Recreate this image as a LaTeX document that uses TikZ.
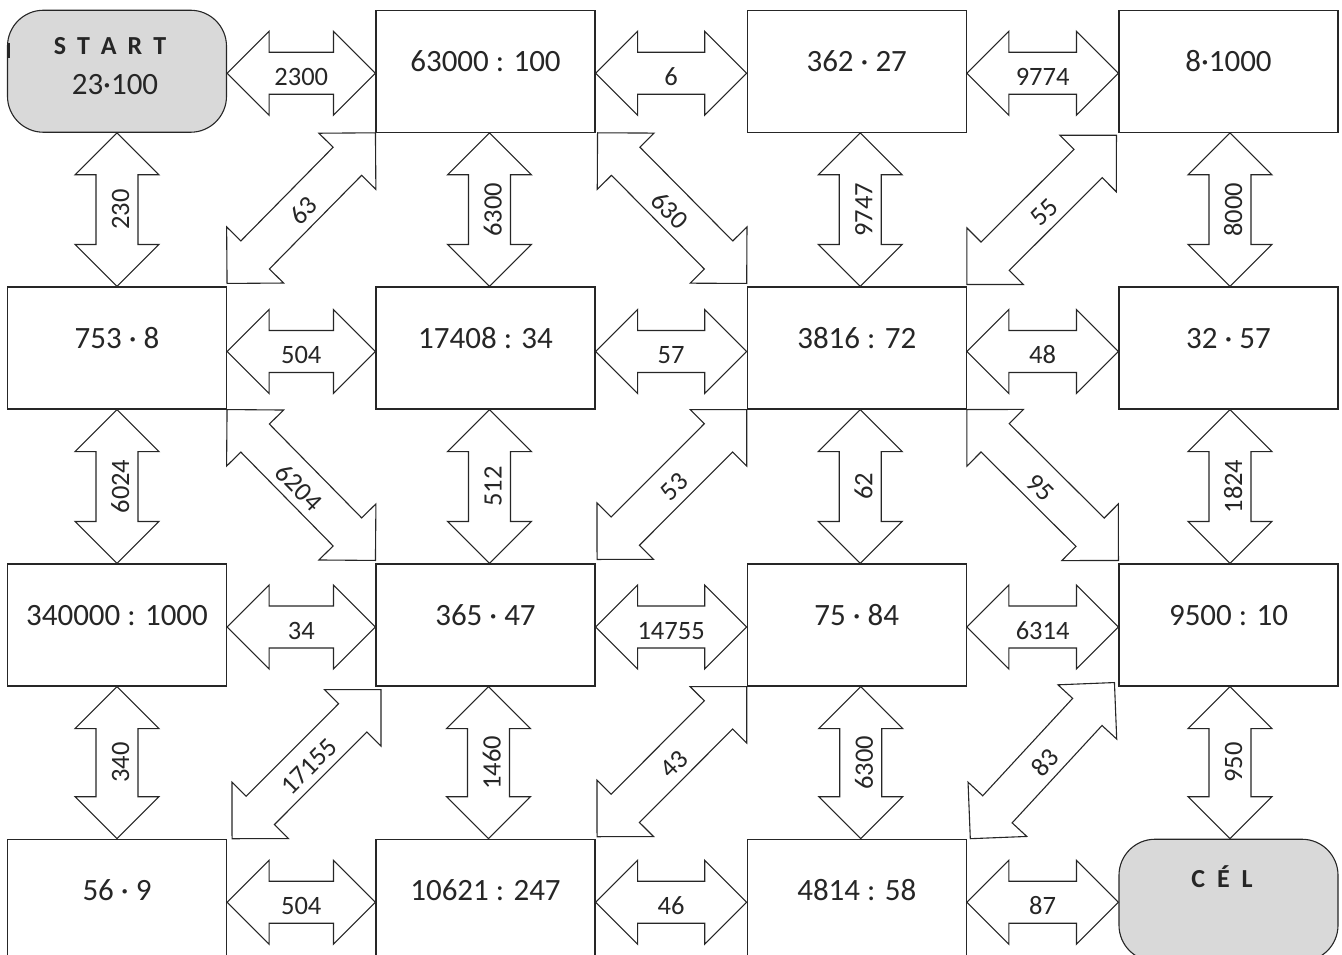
\documentclass[tikz,border=0pt]{standalone}
\usepackage{fontspec}
\setmainfont{Carlito}
\usetikzlibrary{calc}

\definecolor{goalgray}{RGB}{217,217,217}
\definecolor{inkgray}{RGB}{38,38,38}

\tikzset{
  cell/.style={draw=inkgray, line width=1.1pt, minimum width=219pt, minimum height=122pt,
    inner sep=0pt, text=inkgray, font=\fontsize{31}{36}\selectfont,
    text height=20pt, text depth=20pt},
  goal/.style={draw=inkgray, line width=1.1pt, fill=goalgray, minimum width=219pt,
    minimum height=122pt, rounded corners=36pt},
  goalword/.style={text=inkgray, font=\fontsize{26}{30}\selectfont\bfseries,
    anchor=base, inner sep=0pt},
  goalcalc/.style={text=inkgray, font=\fontsize{31}{36}\selectfont, anchor=base, inner sep=0pt},
  twowaybody/.style={draw=inkgray, line width=1.1pt, fill=white, line join=miter},
  twowaylabel/.style={text=inkgray, font=\fontsize{26.5}{30}\selectfont, text height=24pt,
    text depth=0pt, inner sep=0pt},
}

% double arrow: [head] {name} {from} {to} {label}
\newcommand\twoway[5][42]{%
  \coordinate (#2-a) at (#3);
  \coordinate (#2-b) at (#4);
  \draw[twowaybody] (#2-a)
    -- ($(#2-a)!#1pt!(#2-b)!#1pt!90:(#2-b)$)
    -- ($(#2-a)!#1pt!(#2-b)!0.5*#1pt!90:(#2-b)$)
    -- ($(#2-b)!#1pt!(#2-a)!0.5*#1pt!-90:(#2-a)$)
    -- ($(#2-b)!#1pt!(#2-a)!#1pt!-90:(#2-a)$)
    -- (#2-b)
    -- ($(#2-b)!#1pt!(#2-a)!#1pt!90:(#2-a)$)
    -- ($(#2-b)!#1pt!(#2-a)!0.5*#1pt!90:(#2-a)$)
    -- ($(#2-a)!#1pt!(#2-b)!0.5*#1pt!-90:(#2-b)$)
    -- ($(#2-a)!#1pt!(#2-b)!#1pt!-90:(#2-b)$)
    -- cycle;
  \path (#2-a) -- (#2-b) node[midway, sloped, twowaylabel] (#2) {#5};
}

\begin{document}
\begin{tikzpicture}[x=1pt, y=-1pt]
  \useasboundingbox (0,0) rectangle (1342,955);
  \clip (0,0) rectangle (1342,955);

  % Row 1
  \node[goal] (b11) at (117,71.25) {};
  \node[goalword] (startword) at (110,55)
    {S\hspace{11pt}T\hspace{11pt}A\hspace{11pt}R\hspace{11pt}T};
  \node[goalcalc] (startcalc) at (115,95) {23·100};
  \draw[line width=2.5pt, inkgray] (8.5,43) -- (8.5,58);
  \node[cell] (b12) at (485.5,71.25) {63000 : 100};
  \node[cell] (b13) at (856.75,71.25) {362 · 27};
  \node[cell] (b14) at (1228.5,71.25) {8·1000};

  % Row 2
  \node[cell] (b21) at (117,348) {753 · 8};
  \node[cell] (b22) at (485.5,348) {17408 : 34};
  \node[cell] (b23) at (856.75,348) {3816 : 72};
  \node[cell] (b24) at (1228.5,348) {32 · 57};

  % Row 3
  \node[cell] (b31) at (117,625) {340000 : 1000};
  \node[cell] (b32) at (485.5,625) {365 · 47};
  \node[cell] (b33) at (856.75,625) {75 · 84};
  \node[cell] (b34) at (1228.5,625) {9500 : 10};

  % Row 4
  \node[cell] (b41) at (117,900.25) {56 · 9};
  \node[cell] (b42) at (485.5,900.25) {10621 : 247};
  \node[cell] (b43) at (856.75,900.25) {4814 : 58};
  \node[goal] (b44) at (1228.5,900.25) {};
  \node[goalword] (goalword) at (1222,887)
    {C\hspace{12pt}É\hspace{12pt}L};

  % Horizontal arrows
  \twoway{h11}{[yshift=-2pt]b11.east}{[yshift=-2pt]b12.west}{2300}
  \twoway{h12}{[yshift=-2pt]b12.east}{[yshift=-2pt]b13.west}{6}
  \twoway{h13}{[yshift=-2pt]b13.east}{[yshift=-2pt]b14.west}{9774}
  \twoway{h21}{[yshift=-3.5pt]b21.east}{[yshift=-3.5pt]b22.west}{504}
  \twoway{h22}{[yshift=-3.5pt]b22.east}{[yshift=-3.5pt]b23.west}{57}
  \twoway{h23}{[yshift=-3.5pt]b23.east}{[yshift=-3.5pt]b24.west}{48}
  \twoway{h31}{[yshift=-2pt]b31.east}{[yshift=-2pt]b32.west}{34}
  \twoway{h32}{[yshift=-2pt]b32.east}{[yshift=-2pt]b33.west}{14755}
  \twoway{h33}{[yshift=-2pt]b33.east}{[yshift=-2pt]b34.west}{6314}
  \twoway{h41}{[yshift=-2pt]b41.east}{[yshift=-2pt]b42.west}{504}
  \twoway{h42}{[yshift=-2pt]b42.east}{[yshift=-2pt]b43.west}{46}
  \twoway{h43}{[yshift=-2pt]b43.east}{[yshift=-2pt]b44.west}{87}

  % Vertical arrows
  \twoway{v11}{b21.north}{b11.south}{230}
  \twoway{v12}{[xshift=4pt]b22.north}{[xshift=4pt]b12.south}{6300}
  \twoway{v13}{[xshift=3.5pt]b23.north}{[xshift=3.5pt]b13.south}{9747}
  \twoway{v14}{[xshift=1.5pt]b24.north}{[xshift=1.5pt]b14.south}{8000}
  \twoway{v21}{b31.north}{b21.south}{6024}
  \twoway{v22}{[xshift=4pt]b32.north}{[xshift=4pt]b22.south}{512}
  \twoway{v23}{[xshift=3.5pt]b33.north}{[xshift=3.5pt]b23.south}{62}
  \twoway{v24}{[xshift=1.5pt]b34.north}{[xshift=1.5pt]b24.south}{1824}
  \twoway{v31}{b41.north}{b31.south}{340}
  \twoway{v32}{[xshift=3pt]b42.north}{[xshift=3pt]b32.south}{1460}
  \twoway{v33}{[xshift=4pt]b43.north}{[xshift=4pt]b33.south}{6300}
  \twoway{v34}{[xshift=1.5pt]b44.north}{[xshift=1.5pt]b34.south}{950}

  % Diagonal arrows
  \twoway[40]{d11}{[yshift=3pt]b21.north east}{b12.south west}{63}
  \twoway[40]{d12}{[xshift=2pt]b12.south east}{[yshift=3pt]b23.north west}{630}
  \twoway[40]{d13}{[yshift=2pt]b23.north east}{[xshift=-2pt,yshift=-2.5pt]b14.south west}{55}
  \twoway[40]{d21}{b21.south east}{[yshift=3pt]b32.north west}{6204}
  \twoway[40]{d22}{[xshift=1.5pt,yshift=4pt]b32.north east}{b23.south west}{53}
  \twoway[40]{d23}{b23.south east}{[yshift=3pt]b34.north west}{95}
  \twoway[40]{d31}{[xshift=5pt]b41.north east}{[xshift=5.5pt,yshift=-3pt]b32.south west}{17155}
  \twoway[40]{d32}{[xshift=1.5pt,yshift=2pt]b42.north east}{b33.south west}{43}
  \twoway[40]{d33}{[xshift=3.5pt]b43.north east}{[xshift=-4pt,yshift=4pt]b34.south west}{83}
\end{tikzpicture}
\end{document}
